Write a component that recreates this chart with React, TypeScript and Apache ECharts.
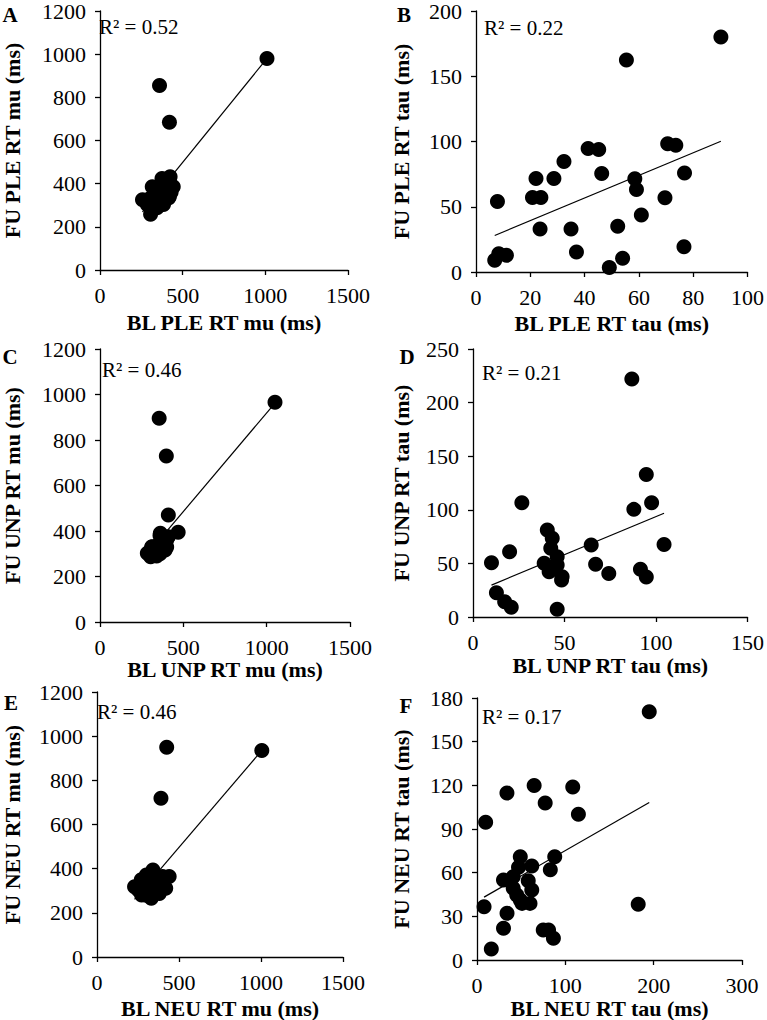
import React, { useEffect, useRef } from "react";
import * as echarts from "echarts";

// ---------- DATA ----------
const panelLetters = ["A", "B", "C", "D", "E", "F"];
const xTitles = [
  "BL PLE RT mu (ms)",
  "BL PLE RT tau (ms)",
  "BL UNP RT mu (ms)",
  "BL UNP RT tau (ms)",
  "BL NEU RT mu (ms)",
  "BL NEU RT tau (ms)",
];
const yTitles = [
  "FU PLE RT mu (ms)",
  "FU PLE RT tau (ms)",
  "FU UNP RT mu (ms)",
  "FU UNP RT tau (ms)",
  "FU NEU RT mu (ms)",
  "FU NEU RT tau (ms)",
];
const r2Values = ["0.52", "0.22", "0.46", "0.21", "0.46", "0.17"];
const xMaxes = [1500, 100, 1500, 150, 1500, 300];
const xSteps = [500, 20, 500, 50, 500, 100];
const yMaxes = [1200, 200, 1200, 250, 1200, 180];
const ySteps = [200, 50, 200, 50, 200, 30];
const trendSlopes = [0.944, 0.867, 0.867, 0.71, 0.869, 0.348];
const trendIntercepts = [27, 22.0, 52, 22.6, 62, 40.4];

const pleMu = [
  [1010, 980], [360, 855], [420, 685],
  [257, 326], [306, 258], [316, 386], [375, 424], [424, 432], [443, 386],
  [394, 356], [355, 318], [345, 288], [384, 303], [286, 303], [414, 333],
  [400, 380], [370, 340], [330, 300], [420, 410], [350, 370], [390, 320],
  [310, 280], [430, 360], [380, 400], [340, 330], [400, 420], [360, 300],
  [420, 340], [300, 330], [370, 360],
];
const pleTau = [
  [90.2, 180], [55.4, 162.4], [41.3, 94.7], [45.2, 93.9], [46.3, 75.4],
  [32.4, 84.7], [28.7, 71.7], [22.1, 71.7], [20.8, 57.1], [23.9, 57.1],
  [23.6, 32.9], [7.9, 54.1], [6.9, 9.0], [8.4, 14.0], [11.2, 12.8],
  [35.0, 32.9], [37.0, 15.3], [49.1, 3.5], [52.2, 35.1], [54.0, 10.5],
  [58.5, 71.4], [59.1, 63.2], [60.9, 43.6], [69.6, 56.9], [70.6, 98.2],
  [73.6, 97.2], [76.8, 75.9], [76.6, 19.3],
];
const unpMu = [
  [1050, 966], [355, 896], [398, 730], [410, 470], [469, 394],
  [362, 390], [284, 302], [313, 331], [372, 346], [410, 375], [391, 316],
  [343, 302], [304, 287], [330, 320], [350, 340], [380, 360], [300, 310],
  [360, 300], [400, 330], [340, 290], [320, 300], [370, 320], [390, 350],
  [350, 310], [310, 330], [400, 360], [360, 380],
];
const unpTau = [
  [86.8, 222], [94.7, 133], [97.6, 106.6], [87.9, 100.4], [26.7, 106.6],
  [104.4, 67.6], [64.6, 67.2], [67.0, 49.3], [74.2, 40.5], [91.5, 44.6],
  [94.7, 37.4], [10.1, 50.7], [20.0, 60.9], [12.8, 22.7], [17.3, 14.3],
  [20.9, 9.0], [46.0, 7.2], [40.6, 81.2], [43.3, 73.4], [42.5, 64.1],
  [38.9, 50.1], [41.6, 42.3], [46.0, 56.3], [46.0, 48.5], [48.7, 37.6],
  [48.4, 34.5], [44.5, 45.0],
];
const neuMu = [
  [1005, 935], [425, 950], [390, 719], [440, 364], [229, 318],
  [301, 371], [341, 394], [400, 364], [419, 311], [380, 288], [331, 266],
  [272, 281], [252, 303], [321, 318], [360, 334], [282, 341],
  [310, 340], [350, 360], [330, 300], [290, 320], [370, 310], [300, 280],
  [340, 350], [360, 290], [280, 300], [320, 330], [390, 340], [270, 350],
];
const neuTau = [
  [195, 170.6], [64.7, 119.9], [108.4, 118.8], [33.9, 114.7], [77.2, 107.8],
  [114.8, 100.2], [9.8, 94.7], [182.5, 38.3], [49, 71], [88, 71],
  [83, 62], [62, 64.6], [47, 63.7], [41, 57.2], [30, 55],
  [58, 54.5], [62, 48.1], [41, 49.3], [45, 44.7], [49, 41.2],
  [51, 38.9], [60, 38.9], [8, 36.6], [34, 32.1], [30, 21.8],
  [75, 20.6], [81, 20.6], [86.5, 14.9], [16.2, 7.6],
];
const panelData = [pleMu, pleTau, unpMu, unpTau, neuMu, neuTau];

// ---------- LAYOUT ----------
const FONT = '"Liberation Serif", "Times New Roman", Times, serif';
const grids = [
  { left: 93, top: 6, width: 255, height: 264 },
  { left: 476, top: 6, width: 275, height: 266 },
  { left: 93, top: 349, width: 257, height: 273 },
  { left: 473, top: 349, width: 278, height: 268 },
  { left: 89, top: 692, width: 254, height: 265 },
  { left: 477, top: 698, width: 265, height: 262 },
];
const xNameGaps = [41, 40, 32, 37, 40, 37];
const yNameGaps = [77, 64, 77, 61, 74, 65];
const letterPos = [
  [10, 15], [404, 15], [10, 357], [407, 357], [11, 703], [406, 706],
];
const r2Pos = [
  [99, 27], [484, 28], [102, 370], [482, 373], [97, 712], [482, 717],
];

function buildOption() {
  const xAxis: any[] = [];
  const yAxis: any[] = [];
  const series: any[] = [];
  const graphic: any[] = [];
  panelData.forEach((pts, i) => {
    const axisCommon = {
      gridIndex: i,
      type: "value",
      min: 0,
      axisLine: { show: true, onZero: false, lineStyle: { color: "#000", width: 1.3 } },
      axisTick: { show: true, inside: false, length: 5, lineStyle: { color: "#000", width: 1.3 } },
      splitLine: { show: false },
      axisLabel: {
        color: "#000",
        fontSize: 22,
        fontFamily: FONT,
        margin: 14,
        formatter: (v: number) => String(v),
      },
      nameLocation: "middle",
      nameTextStyle: { color: "#000", fontSize: 22, fontWeight: "bold", fontFamily: FONT },
    };
    xAxis.push({
      ...axisCommon,
      max: xMaxes[i],
      interval: xSteps[i],
      name: xTitles[i],
      nameGap: xNameGaps[i],
    });
    yAxis.push({
      ...axisCommon,
      max: yMaxes[i],
      interval: ySteps[i],
      name: yTitles[i],
      nameGap: yNameGaps[i],
      nameRotate: 90,
    });
    const xs = pts.map((p) => p[0]);
    const xmin = Math.min(...xs);
    const xmax = Math.max(...xs);
    const a = trendSlopes[i];
    const b = trendIntercepts[i];
    series.push({
      type: "line",
      xAxisIndex: i,
      yAxisIndex: i,
      data: [
        [xmin, a * xmin + b],
        [xmax, a * xmax + b],
      ],
      symbol: "none",
      lineStyle: { color: "#000", width: 1.2 },
      z: 3,
      silent: true,
    });
    series.push({
      type: "scatter",
      xAxisIndex: i,
      yAxisIndex: i,
      data: pts,
      symbol: "circle",
      symbolSize: 15,
      itemStyle: { color: "#000", opacity: 1 },
      z: 2,
    });
    graphic.push({
      type: "text",
      x: letterPos[i][0],
      y: letterPos[i][1],
      style: {
        text: panelLetters[i],
        font: `bold 21px ${FONT}`,
        fill: "#000",
        textAlign: "center",
        textVerticalAlign: "middle",
      },
    });
    graphic.push({
      type: "text",
      x: r2Pos[i][0],
      y: r2Pos[i][1],
      style: {
        text: `R² = ${r2Values[i]}`,
        font: `21px ${FONT}`,
        fill: "#000",
        textAlign: "left",
        textVerticalAlign: "middle",
      },
    });
  });
  return {
    animation: false,
    backgroundColor: "#fff",
    grid: grids.map((g) => ({ ...g, containLabel: false })),
    xAxis,
    yAxis,
    series,
    graphic,
  };
}

export default function App() {
  const ref = useRef<HTMLDivElement>(null);
  useEffect(() => {
    if (!ref.current) return;
    const chart = echarts.init(ref.current, null, { renderer: "svg" });
    chart.setOption(buildOption());
    return () => chart.dispose();
  }, []);
  return (
    <div
      ref={ref}
      style={{ position: "absolute", left: 0, top: 0, width: 767, height: 1020, background: "#fff" }}
    />
  );
}
